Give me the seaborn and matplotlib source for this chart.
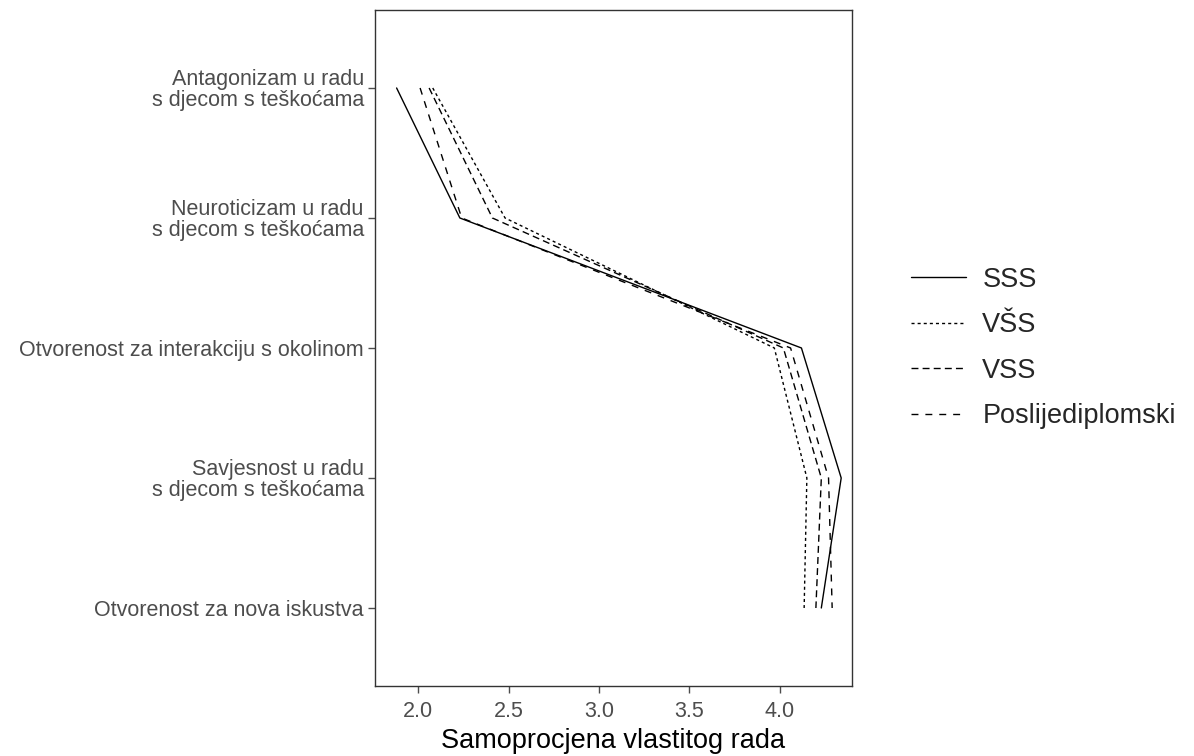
import pandas as pd
import matplotlib
matplotlib.use('Agg')
import matplotlib.pyplot as plt
import seaborn as sns

# dimensions, top to bottom
dimensions = ['Antagonizam u radu\ns djecom s teškoćama',
              'Neuroticizam u radu\ns djecom s teškoćama',
              'Otvorenost za interakciju s okolinom',
              'Savjesnost u radu\ns djecom s teškoćama',
              'Otvorenost za nova iskustva']

groups = ['SSS', 'VŠS', 'VSS', 'Poslijediplomski']

sss = [1.88, 2.23, 4.12, 4.34, 4.23]
vss_visa = [2.08, 2.48, 3.97, 4.15, 4.135]
vss = [2.06, 2.41, 4.02, 4.23, 4.20]
poslijediplomski = [2.01, 2.24, 4.06, 4.27, 4.29]

x_ticks = [2.0, 2.5, 3.0, 3.5, 4.0]

values = {'SSS': sss, 'VŠS': vss_visa, 'VSS': vss, 'Poslijediplomski': poslijediplomski}
rows = []
for g in groups:
    for i, v in enumerate(values[g]):
        rows.append({'grupa': g, 'pos': i, 'vrijednost': v})
df = pd.DataFrame(rows)

sns.set_style('white')
plt.rcParams['font.family'] = ['Liberation Sans', 'DejaVu Sans']

fig = plt.figure(figsize=(11.94, 7.56), dpi=100)
ax = fig.add_axes([0.314, 0.0926, 0.3996, 0.8942])

dashes = {'SSS': '', 'VŠS': (2.2, 2.2), 'VSS': (5, 3), 'Poslijediplomski': (5, 5)}
sns.lineplot(data=df, x='vrijednost', y='pos', hue='grupa', style='grupa',
             hue_order=groups, style_order=groups,
             palette=['black'] * 4, dashes=dashes, sort=False, estimator=None,
             orient='y', linewidth=1.0, ax=ax)

ax.set_ylim(4.6, -0.6)
ax.set_xlim(1.76, 4.40)
ax.set_yticks(range(len(dimensions)))
ax.set_yticklabels(dimensions, linespacing=0.95)
ax.set_xticks(x_ticks)
ax.set_xticklabels([f'{t:.1f}' for t in x_ticks])
ax.tick_params(axis='both', colors='#4D4D4D', labelsize=15.5, length=5, width=1,
               left=True, bottom=True, direction='out', pad=3)
ax.tick_params(axis='x', pad=6)
for s in ax.spines.values():
    s.set_color('#333333')
    s.set_linewidth(1.0)

ax.set_xlabel('Samoprocjena vlastitog rada', fontsize=19.5, color='black', labelpad=4)
ax.set_ylabel('')

sns.move_legend(ax, 'center left', bbox_to_anchor=(1.10, 0.5), frameon=False,
                title=None, fontsize=19.5, handlelength=2.05, handletextpad=0.6,
                labelspacing=0.72, borderaxespad=0)

fig.savefig('out.png', dpi=100)
